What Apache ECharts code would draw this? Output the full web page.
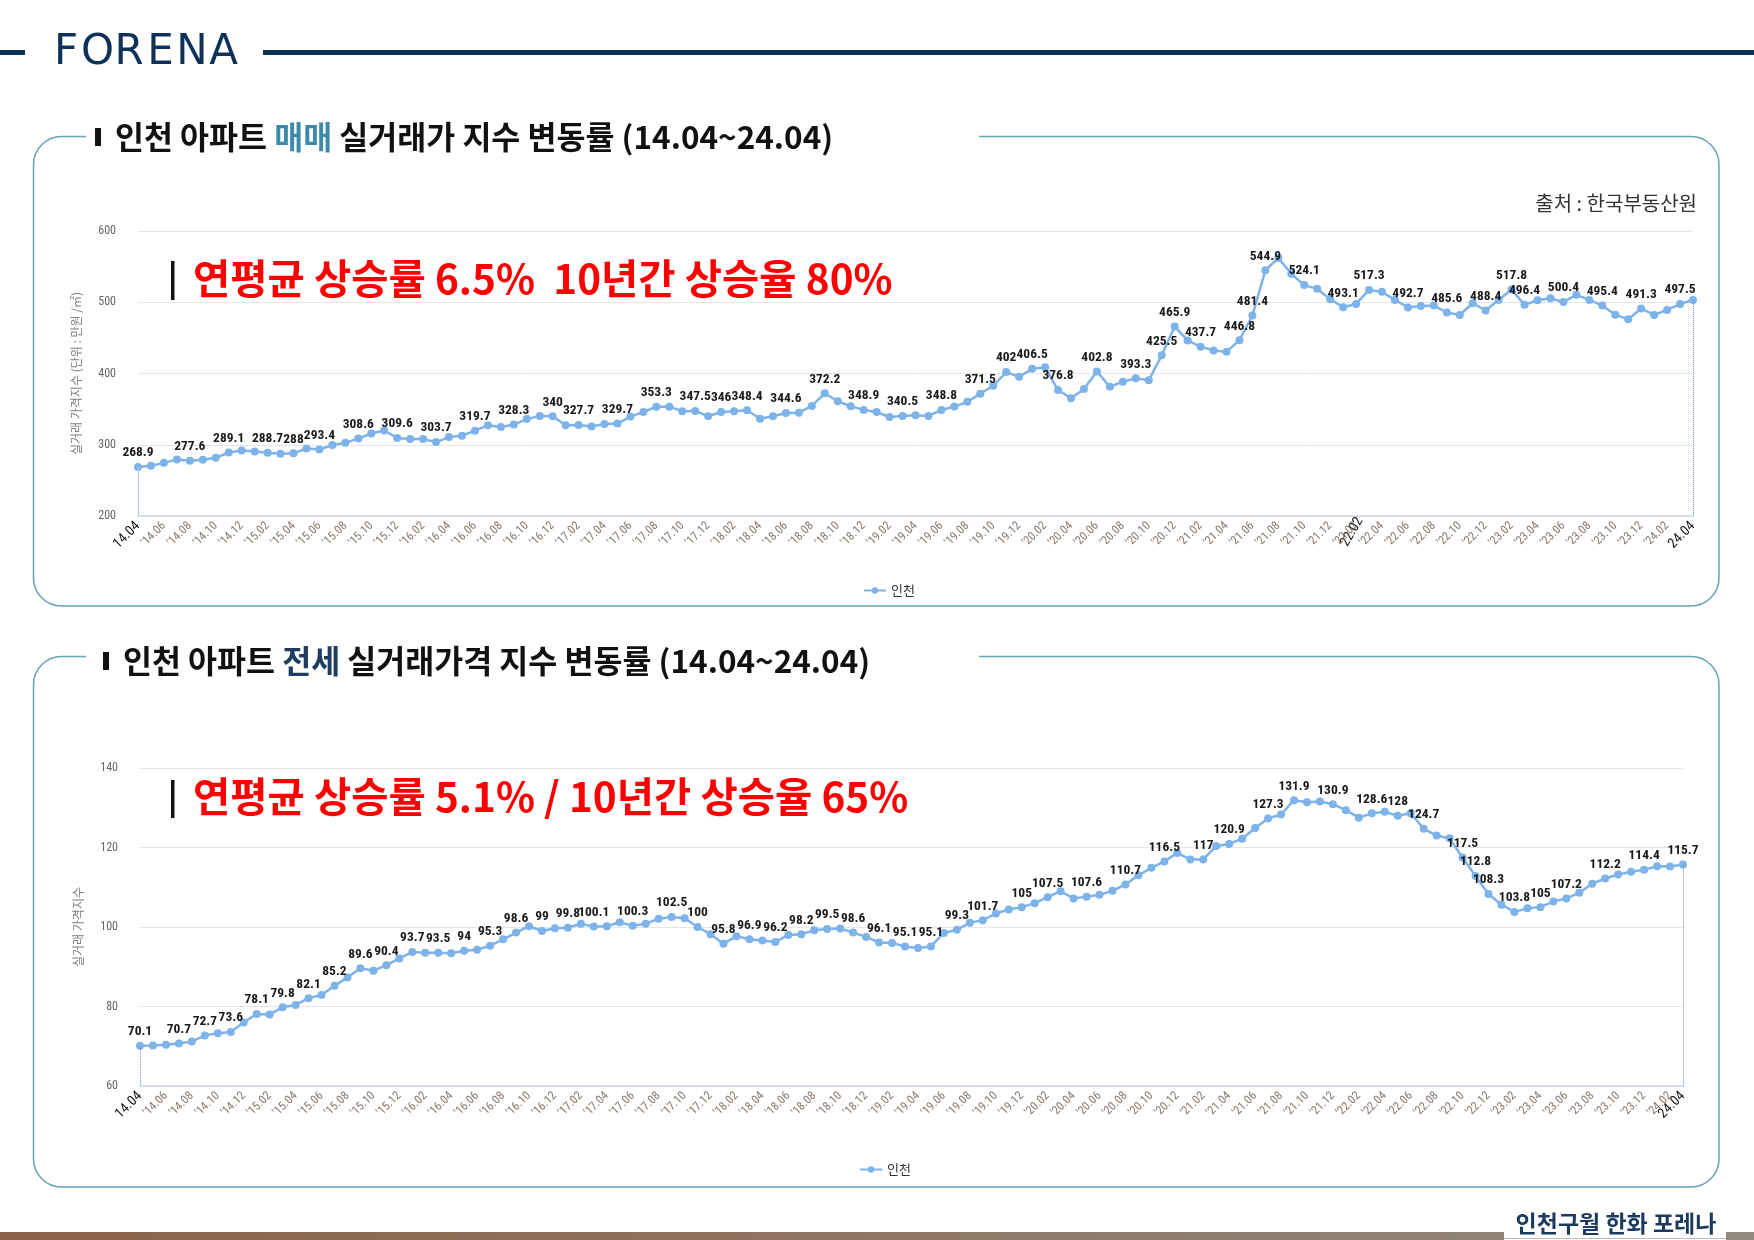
<!DOCTYPE html>
<html>
<head>
<meta charset="utf-8">
<script src="https://cdn.jsdelivr.net/npm/echarts@6/dist/echarts.min.js"></script>
<style>
html, body { margin: 0; padding: 0; background: #fff; }
#main { width: 1754px; height: 1240px; }
</style>
</head>
<body>
<div id="main"></div>
<script>
// 인천 아파트 매매 실거래가 지수 (월별, 14.04 ~ 24.04)
var saleIndex = [
  268.9, 270.6, 274.6, 279.3, 277.6, 279.0, 281.6, 289.1, 292.0, 290.6,
  288.7, 287.5, 288.0, 294.8, 293.4, 299.5, 302.8, 308.6, 315.8, 320.0,
  309.6, 308.0, 308.0, 303.7, 310.8, 312.7, 319.7, 327.3, 325.0, 328.3,
  336.0, 340.5, 340.0, 327.5, 327.7, 325.5, 329.0, 329.7, 339.5, 346.0,
  353.3, 353.5, 347.0, 347.5, 340.0, 346.0, 347.0, 348.4, 336.5, 340.0,
  344.6, 345.0, 354.5, 372.2, 361.0, 354.0, 348.9, 346.0, 339.0, 340.5,
  341.5, 340.5, 348.8, 353.6, 360.2, 371.5, 382.8, 402.0, 395.5, 406.5,
  408.7, 376.8, 365.4, 378.1, 402.8, 381.4, 388.5, 393.3, 390.4, 425.5,
  465.9, 446.4, 437.7, 432.2, 430.4, 446.8, 481.4, 544.9, 562.1, 540.0,
  524.1, 518.8, 504.2, 493.1, 497.6, 517.3, 514.6, 503.3, 492.7, 494.8,
  495.3, 485.6, 482.1, 498.6, 488.4, 503.3, 517.8, 496.4, 502.8, 505.6,
  500.4, 510.4, 503.3, 495.4, 482.6, 476.0, 491.3, 482.1, 489.2, 497.5,
  503.3
];
// 값이 표시된 달 (index)
var saleLabelIdx = [0, 4, 7, 10, 12, 14, 17, 20, 23, 26, 29, 32, 34, 37, 40, 43, 45, 47, 50,
  53, 56, 59, 62, 65, 67, 69, 71, 74, 77, 79, 80, 82, 85, 86, 87, 90, 93, 95, 98, 101,
  104, 106, 107, 110, 113, 116, 119];

// 인천 아파트 전세 실거래가격 지수 (그림상 120개 점, 마지막 24.04)
var jeonseIndex = [
  70.1, 70.2, 70.4, 70.7, 71.2, 72.7, 73.3, 73.6, 76.0, 78.1,
  78.0, 79.8, 80.4, 82.1, 82.9, 85.2, 87.3, 89.6, 89.0, 90.4,
  92.1, 93.7, 93.5, 93.5, 93.4, 94.0, 94.3, 95.3, 96.9, 98.6,
  100.2, 99.0, 99.7, 99.8, 100.8, 100.1, 100.2, 101.2, 100.3, 100.8,
  102.1, 102.5, 102.2, 100.0, 98.2, 95.8, 97.7, 96.9, 96.6, 96.2,
  98.0, 98.2, 99.2, 99.5, 99.6, 98.6, 97.5, 96.1, 96.0, 95.1,
  94.7, 95.1, 98.5, 99.3, 101.1, 101.7, 103.4, 104.4, 105.0, 106.0,
  107.5, 109.0, 107.2, 107.6, 108.1, 109.1, 110.7, 113.0, 114.9, 116.5,
  118.6, 117.0, 117.0, 120.4, 120.9, 122.2, 124.9, 127.3, 128.3, 131.9,
  131.4, 131.6, 130.9, 129.4, 127.5, 128.6, 129.0, 128.0, 128.6, 124.7,
  123.0, 122.3, 117.5, 112.8, 108.3, 105.6, 103.8, 104.7, 105.0, 106.4,
  107.2, 108.6, 110.9, 112.2, 113.2, 113.9, 114.4, 115.3, 115.2, 115.7
];
var jeonseLabelIdx = [0, 3, 5, 7, 9, 11, 13, 15, 17, 19, 21, 23, 25, 27, 29, 31, 33, 35, 38, 41,
  43, 45, 47, 49, 51, 53, 55, 57, 59, 61, 63, 65, 68, 70, 73, 76, 79, 82, 84, 87,
  89, 92, 95, 97, 99, 102, 103, 104, 106, 108, 110, 113, 116, 119];

// 월 라벨 '14.04' 형식
function monthRange(year, month, count) {
  var out = [];
  for (var i = 0; i < count; i++) {
    var y = year + Math.floor((month - 1 + i) / 12);
    var m = (month - 1 + i) % 12 + 1;
    out.push(String(y).slice(2) + '.' + (m < 10 ? '0' + m : m));
  }
  return out;
}
var saleMonths = monthRange(2014, 4, 121);
var jeonseMonths = monthRange(2014, 4, 119).concat(['24.04']);

var lineColor = '#7db3e8';
var navy = '#0e3158';
var boxColor = '#6aa2b5';
var KR = '"Noto Sans CJK KR", "Noto Sans", sans-serif';
var NUM = '"Liberation Sans Narrow", "Roboto Condensed", "Noto Sans", sans-serif';

function makeData(values, labelIdx) {
  return values.map(function (v, i) {
    return { value: v, label: { show: labelIdx.indexOf(i) >= 0 } };
  });
}

var tickRich = {
  n: { fontSize: 12, color: '#857a70', fontFamily: NUM },
  e: { fontSize: 14, color: '#111', fontFamily: NUM }
};

// 두 달 간격 눈금 라벨; lastOnly 이면 마지막 라벨만 그리는 보조 축
function xAxisFor(gridIndex, months, mode) {
  var last = months.length - 1;
  var show;
  if (mode === 'lastOnly') show = function (i) { return i === last; };
  else if (mode === 'noLast') show = function (i) { return i % 2 === 0 && i !== last; };
  else show = function (i) { return i % 2 === 0 || i === last; };
  var label = {
    rotate: 45,
    margin: 8,
    interval: show,
    formatter: function (val, i) {
      if (i === 0 || i === last) return '{e|' + val + '}';
      return '{n|\'' + val + '}';
    },
    rich: tickRich
  };
  if (!mode) label.showMaxLabel = true;
  return {
    type: 'category',
    gridIndex: gridIndex,
    position: 'bottom',
    offset: 0,
    data: months,
    boundaryGap: false,
    axisTick: { show: false },
    axisLine: { show: mode !== 'lastOnly', lineStyle: { color: '#cfd7e6', width: 1.5 } },
    splitLine: { show: false },
    axisLabel: label
  };
}

function yAxisFor(gridIndex, min, max, step, name) {
  return {
    type: 'value',
    gridIndex: gridIndex,
    min: min,
    max: max,
    interval: step,
    name: name,
    nameLocation: 'middle',
    nameRotate: 90,
    nameGap: 56,
    nameTextStyle: { fontSize: 12, color: '#7f7f7f', fontFamily: KR },
    axisLine: { show: false },
    axisTick: { show: false },
    axisLabel: { margin: 22, fontSize: 12, color: '#666', fontFamily: NUM },
    splitLine: { lineStyle: { color: '#e6e6e6', width: 1 } }
  };
}

function seriesFor(idx, values, labelIdx, months, base) {
  var last = values.length - 1;
  return {
    name: '인천',
    type: 'line',
    xAxisIndex: idx,
    yAxisIndex: idx,
    data: makeData(values, labelIdx),
    symbol: 'circle',
    symbolSize: 8,
    lineStyle: { color: lineColor, width: 2.5 },
    itemStyle: { color: lineColor },
    label: {
      position: 'top',
      distance: 3,
      fontSize: 13.5,
      fontWeight: 'bold',
      color: '#1a1a1a',
      fontFamily: NUM,
      formatter: function (p) { return p.value; }
    },
    markLine: {
      silent: true,
      symbol: ['none', 'none'],
      label: { show: false },
      lineStyle: { color: '#6f87c8', width: 1, type: 'dotted' },
      data: [
        [{ coord: [months[0], values[0]], lineStyle: idx === 0 ? { type: 'solid', color: '#b9c6e3' } : {} },
         { coord: [months[0], base] }],
        [{ coord: [months[last], values[last]] }, { coord: [months[last], base] }]
      ]
    }
  };
}

// 장식 요소
var graphics = [
  { type: 'rect', shape: { x: 0, y: 50, width: 25, height: 5 }, style: { fill: navy } },
  { type: 'rect', shape: { x: 263, y: 50, width: 1491, height: 5 }, style: { fill: navy } }
];
'FORENA'.split('').forEach(function (ch, i) {
  graphics.push({
    type: 'text', x: 66 + i * 31.5, y: 53,
    style: { text: ch, fill: navy, font: '42px "Liberation Sans Narrow", "DejaVu Sans", sans-serif', align: 'center', verticalAlign: 'middle' }
  });
});

function box(y, h, titleY, titleRich, barX) {
  return [
    { type: 'rect', shape: { x: 33.5, y: y, width: 1685.5, height: h, r: 28 },
      style: { fill: 'none', stroke: boxColor, lineWidth: 1.5 } },
    { type: 'rect', shape: { x: 86, y: y - 8, width: 893, height: 16 }, style: { fill: '#fff' } },
    { type: 'rect', shape: { x: barX, y: titleY - 9, width: 6, height: 18 }, style: { fill: '#111' } },
    { type: 'text', x: barX + 20, y: titleY,
      style: { text: titleRich.text, rich: titleRich.rich, verticalAlign: 'middle', align: 'left' } }
  ];
}
var titleRichStyle = function (hlColor) {
  return {
    b: { fontSize: 31.5, fontWeight: 'bold', fill: '#111', fontFamily: KR },
    h: { fontSize: 31.5, fontWeight: 'bold', fill: hlColor, fontFamily: KR }
  };
};
graphics = graphics.concat(box(136.5, 469.5, 137, {
  text: '{b|인천 아파트 }{h|매매}{b| 실거래가 지수 변동률 (14.04~24.04)}',
  rich: titleRichStyle('#3b8aa8')
}, 95));
graphics = graphics.concat(box(656.5, 530.5, 661, {
  text: '{b|인천 아파트 }{h|전세}{b| 실거래가격 지수 변동률 (14.04~24.04)}',
  rich: titleRichStyle('#1f3d60')
}, 103));

graphics.push(
  { type: 'text', x: 1697, y: 203,
    style: { text: '출처 : 한국부동산원', font: '20px ' + KR, fill: '#333', align: 'right', verticalAlign: 'middle' } },
  { type: 'rect', shape: { x: 171, y: 261, width: 3.5, height: 39 }, style: { fill: '#111' } },
  { type: 'text', x: 193, y: 279,
    style: { text: '연평균 상승률 6.5%  10년간 상승율 80%', font: 'bold 40.5px ' + KR, fill: '#ff0000', verticalAlign: 'middle' } },
  { type: 'rect', shape: { x: 171, y: 780, width: 3.5, height: 38 }, style: { fill: '#111' } },
  { type: 'text', x: 193, y: 797,
    style: { text: '연평균 상승률 5.1% / 10년간 상승율 65%', font: 'bold 40.5px ' + KR, fill: '#ff0000', verticalAlign: 'middle' } },
  // 매매 차트 축 위에 덧붙인 '22.02' 글상자
  { type: 'text', x: 1352, y: 532, rotation: Math.PI / 3,
    style: { text: '22.02', font: '14px ' + NUM, fill: '#111', align: 'center', verticalAlign: 'middle',
      backgroundColor: '#fff', padding: [1, 3] } },
  // 하단 띠
  { type: 'rect', shape: { x: 0, y: 1232, width: 1754, height: 8 },
    style: { fill: new echarts.graphic.LinearGradient(0, 0, 1, 0, [
      { offset: 0, color: '#8b6247' }, { offset: 1, color: '#918a80' }]) } },
  { type: 'rect', shape: { x: 1504, y: 1228, width: 222, height: 12 }, style: { fill: '#fff' } },
  { type: 'rect', shape: { x: 1504, y: 1238, width: 222, height: 1 }, style: { fill: '#bbb' } },
  { type: 'text', x: 1616, y: 1223,
    style: { text: '인천구월 한화 포레나', font: 'bold 23px ' + KR, fill: '#1b3a5e', align: 'center', verticalAlign: 'middle' } }
);

var chart = echarts.init(document.getElementById('main'));
chart.setOption({
  animation: false,
  backgroundColor: '#fff',
  grid: [
    { left: 138, right: 61, top: 231, bottom: 724 },
    { left: 140, right: 71, top: 768, bottom: 154 }
  ],
  xAxis: [
    xAxisFor(0, saleMonths),
    xAxisFor(1, jeonseMonths, 'noLast'),
    xAxisFor(1, jeonseMonths, 'lastOnly')
  ],
  yAxis: [
    yAxisFor(0, 200, 600, 100, '실거래 가격지수 (단위 : 만원 /㎡)'),
    yAxisFor(1, 60, 140, 20, '실거래 가격지수')
  ],
  legend: [
    { data: ['인천'], left: 858, top: 579, itemWidth: 22, itemHeight: 8,
      textStyle: { fontSize: 13, color: '#333', fontFamily: KR } },
    { data: ['인천'], left: 854, top: 1158, itemWidth: 22, itemHeight: 8,
      textStyle: { fontSize: 13, color: '#333', fontFamily: KR } }
  ],
  series: [
    seriesFor(0, saleIndex, saleLabelIdx, saleMonths, 200),
    seriesFor(1, jeonseIndex, jeonseLabelIdx, jeonseMonths, 60)
  ],
  graphic: { elements: graphics }
});
</script>
</body>
</html>
